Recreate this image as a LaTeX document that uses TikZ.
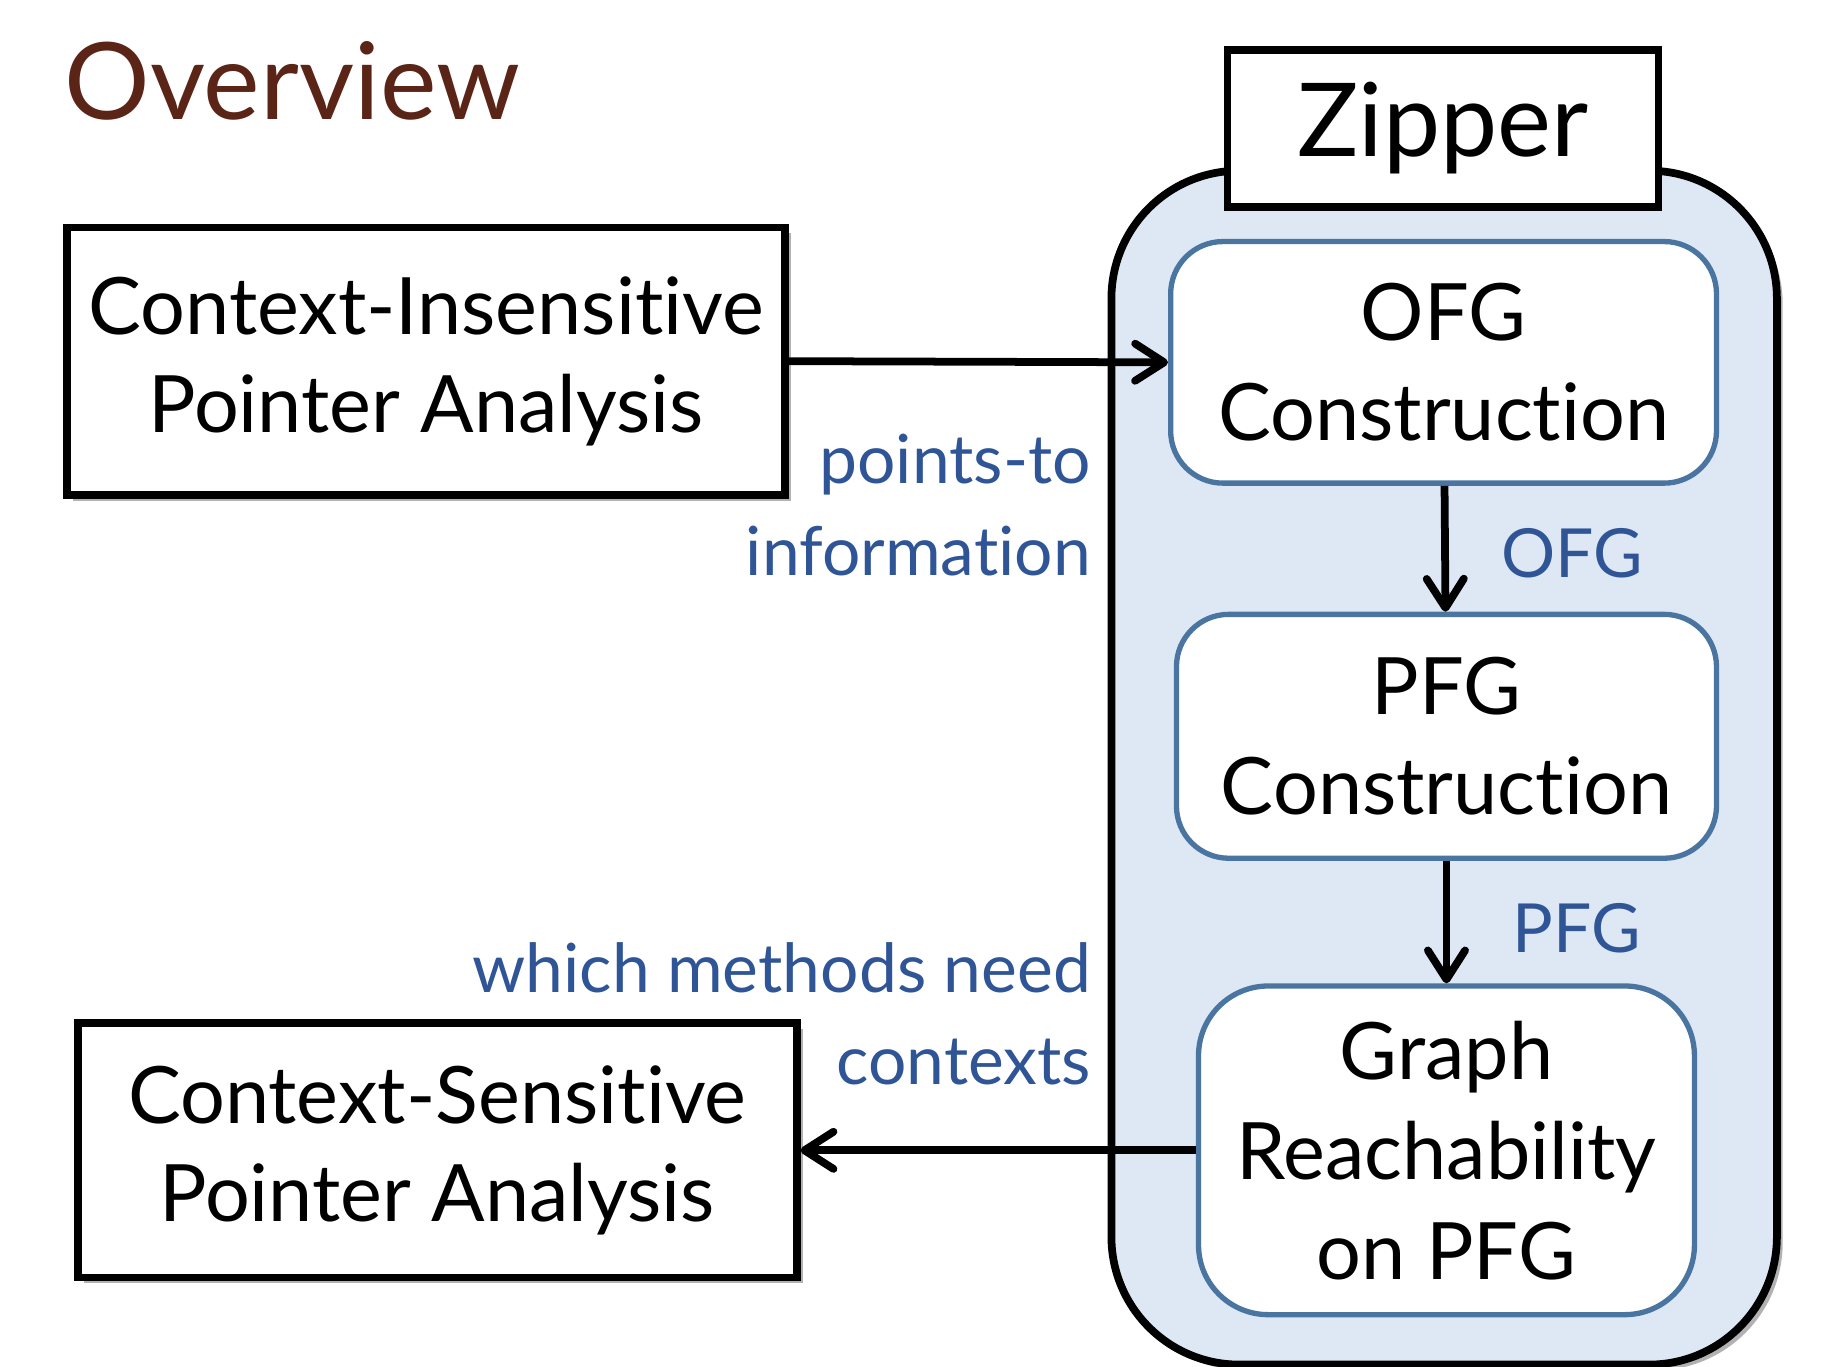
\documentclass[tikz,border=0pt]{standalone}
\usepackage{fontspec}
\setmainfont{Lato}[Ligatures={NoCommon}]
\usetikzlibrary{arrows.meta}
\usetikzlibrary{positioning}
\usetikzlibrary{shadows}
\definecolor{titlebrown}{HTML}{5A2416}
\definecolor{labelblue}{HTML}{2F5597}
\definecolor{phaseblue}{HTML}{4A75A0}
\definecolor{zipfill}{HTML}{DDE8F4}
\tikzset{softshadow/.style = {drop shadow={shadow xshift=0.5mm, shadow yshift=-0.5mm,
                                           opacity=0.3, fill=black}}}
\tikzset{analysis/.style = {draw, line width=1.9pt, fill=white, align=center, inner sep=0,
                            font=\fontsize{19.4}{24}\selectfont, softshadow}}
\tikzset{phase/.style = {draw=phaseblue, line width=1.3pt, fill=white, align=center,
                         inner sep=0, rounded corners=0.45cm,
                         font=\fontsize{19.4}{24.5}\selectfont}}
\tikzset{infolabel/.style = {text=labelblue, align=right, inner sep=0,
                             font=\fontsize{16.6}{22.6}\selectfont}}
\tikzset{flow/.style = {line width=1.9pt,
                        -{Straight Barb[length=2.5mm, width=3.2mm, round]}}}

\begin{document}
\begin{tikzpicture}
    \useasboundingbox (0, 0) rectangle (15.68, 11.77);

    \node (title) [anchor=base west, inner sep=0, text=titlebrown,
                   font=\fontsize{26.2}{32}\selectfont] at (0.55, 10.74) {Overview};

    \node (zipper) [draw, line width=1.9pt, fill=zipfill, rounded corners=1.1cm,
                    minimum width=5.73cm, minimum height=10.28cm, softshadow]
                   at (12.435, 5.16) {};
    \node (ziplabel) [draw, line width=1.9pt, fill=white, minimum width=3.71cm,
                      minimum height=1.35cm, font=\fontsize{25}{30}\selectfont]
                     at (12.425, 10.665) {Zipper};

    \node (ci) [analysis, minimum width=6.18cm, minimum height=2.30cm]
               at (3.67, 8.66) {Context-Insensitive\\Pointer Analysis};
    \node (cs) [analysis, minimum width=6.19cm, minimum height=2.19cm]
               at (3.765, 1.865) {Context-Sensitive\\Pointer Analysis};

    \node (ofg) [phase, minimum width=4.70cm, minimum height=2.08cm]
                at (12.43, 8.65) {OFG\\Construction};
    \node (pfg) [phase, minimum width=4.65cm, minimum height=2.10cm]
                at (12.455, 5.43) {PFG\\Construction};
    \node (reach) [phase, minimum width=4.27cm, minimum height=2.83cm, rounded corners=0.6cm]
                  at (12.455, 1.865) {Graph\\Reachability\\on PFG};

    \draw [flow] (ci.east) -- (ofg.west);
    \draw [flow] (ofg) -- (pfg);
    \draw [flow] (pfg) -- (reach);
    \draw [flow] (reach.west) -- (cs.east);

    \node (ptlabel) [infolabel, anchor=north east] at (9.40, 8.04) {points-to\\information};
    \node (ofglabel) [infolabel, anchor=base west] at (12.92, 6.80) {OFG};
    \node (pfglabel) [infolabel, anchor=base west] at (13.02, 3.57) {PFG};
    \node (ctxlabel) [infolabel, anchor=north east] at (9.40, 3.66) {which methods need\\contexts};
  \end{tikzpicture}
\end{document}
